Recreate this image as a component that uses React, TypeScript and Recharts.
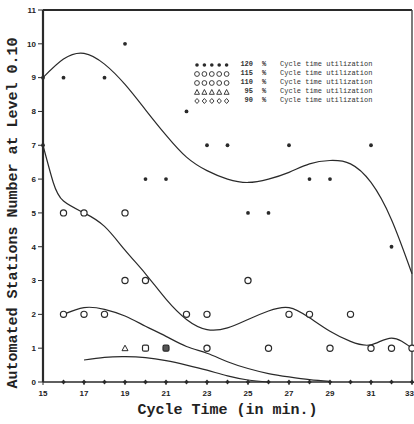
import {
  ComposedChart,
  Line,
  Scatter,
  XAxis,
  YAxis,
  ReferenceLine,
  Legend,
  Label
} from "recharts";

// fitted curves, one per utilization level
const curveX120 = [15, 16, 17, 18, 19, 20, 21, 22, 23, 24, 25, 26, 27, 28, 29, 30, 31, 32, 33];
const curve120 = [9.0, 9.55, 9.72, 9.4, 8.8, 8.05, 7.3, 6.65, 6.25, 6.0, 5.9, 6.0, 6.2, 6.45, 6.55, 6.45, 5.9, 4.8, 3.2];

const curveX115 = [15, 15.5, 16, 17, 18, 19, 20, 21, 22, 23, 24, 25, 26, 27, 28, 29, 30, 31, 32, 33];
const curve115 = [7.0, 5.9, 5.35, 5.0, 4.6, 3.9, 3.2, 2.45, 1.85, 1.55, 1.6, 1.85, 2.1, 2.2, 1.9, 1.5, 1.2, 1.1, 1.3, 1.0];

const curveX110 = [16, 17, 18, 19, 20, 21, 22, 23, 24, 25, 26, 27, 28, 29];
const curve110 = [2.0, 2.2, 2.15, 1.95, 1.65, 1.35, 1.05, 0.85, 0.6, 0.4, 0.25, 0.15, 0.07, 0.02];

const curveX95 = [17, 18, 19, 20, 21, 22, 23, 24, 25, 26];
const curve95 = [0.65, 0.73, 0.75, 0.72, 0.63, 0.5, 0.35, 0.18, 0.06, 0.0];

// observed station counts
const ptsX120 = [15, 15, 16, 18, 19, 20, 21, 22, 23, 24, 25, 26, 27, 28, 29, 31, 32];
const ptsY120 = [9, 7, 9, 9, 10, 6, 6, 8, 7, 7, 5, 5, 7, 6, 6, 7, 4];

const ptsX115 = [16, 17, 19, 19, 20, 25];
const ptsY115 = [5, 5, 5, 3, 3, 3];

const ptsX110 = [16, 17, 18, 22, 23, 27, 28, 30];
const ptsY110 = [2, 2, 2, 2, 2, 2, 2, 2];

const ptsX95 = [19, 20, 21, 23, 26, 29, 31, 32, 33];
const ptsY95 = [1, 1, 1, 1, 1, 1, 1, 1, 1];

const ptsX90 = [16, 17, 18, 19, 20, 21, 22, 23, 24, 25, 26, 27, 28, 29, 30, 31, 32, 33];
const ptsY90 = [0, 0, 0, 0, 0, 0, 0, 0, 0, 0, 0, 0, 0, 0, 0, 0, 0, 0];

const xTicks = [15, 17, 19, 21, 23, 25, 27, 29, 31, 33];
const yTicks = [0, 1, 2, 3, 4, 5, 6, 7, 8, 9, 10, 11];

const legendRows = [
  { mark: "dot", level: "120" },
  { mark: "ring", level: "115" },
  { mark: "ring", level: "110" },
  { mark: "tri", level: "95" },
  { mark: "diamond", level: "90" }
];

const INK = "#2a2a2a";

const zip = (xs: number[], ys: number[]) => xs.map((x, i) => ({ x, y: ys[i] }));

const Dot = (p: any) => <circle cx={p.cx} cy={p.cy} r={1.9} fill={INK} />;
const Ring = (p: any) => (
  <circle cx={p.cx} cy={p.cy} r={3.1} fill="#fff" stroke={INK} strokeWidth={1.2} />
);
const Diamond = (p: any) => (
  <path
    d={`M${p.cx},${p.cy - 2.6}L${p.cx + 2.2},${p.cy}L${p.cx},${p.cy + 2.6}L${p.cx - 2.2},${p.cy}Z`}
    fill={INK}
  />
);
const Mixed = (p: any) => {
  // first few level-1 observations were plotted as a triangle and squares
  if (p.payload.x === 19)
    return (
      <path
        d={`M${p.cx},${p.cy - 3}L${p.cx + 3},${p.cy + 2.5}L${p.cx - 3},${p.cy + 2.5}Z`}
        fill="none"
        stroke={INK}
        strokeWidth={1}
      />
    );
  if (p.payload.x === 20 || p.payload.x === 21)
    return (
      <rect
        x={p.cx - 3}
        y={p.cy - 3}
        width={6}
        height={6}
        rx={1.5}
        fill={p.payload.x === 21 ? "#555" : "#fff"}
        stroke={INK}
        strokeWidth={1.2}
      />
    );
  return <Ring {...p} />;
};

function LegendMark({ kind, x }: { kind: string; x: number }) {
  if (kind === "dot") return <circle cx={x} cy={4} r={1.8} fill={INK} />;
  if (kind === "ring") return <circle cx={x} cy={4} r={2.4} fill="none" stroke={INK} strokeWidth={0.9} />;
  if (kind === "tri")
    return <path d={`M${x},1.5L${x + 2.5},6.3L${x - 2.5},6.3Z`} fill="none" stroke={INK} strokeWidth={0.9} />;
  return <path d={`M${x},1.5L${x + 2.2},4L${x},6.5L${x - 2.2},4Z`} fill="none" stroke={INK} strokeWidth={0.9} />;
}

function LegendBox() {
  return (
    <div style={{ fontFamily: "Liberation Mono", fontSize: 7, color: "#333", lineHeight: "9px" }}>
      {legendRows.map((row) => (
        <div key={row.level} style={{ display: "flex", alignItems: "center", height: 9 }}>
          <svg width={38} height={8}>
            {[0, 1, 2, 3, 4].map((i) => (
              <LegendMark key={i} kind={row.mark} x={4 + i * 7.4} />
            ))}
          </svg>
          <span style={{ width: 22, textAlign: "right", fontWeight: "bold" }}>{row.level}</span>
          <span style={{ marginLeft: 9, width: 14, fontWeight: "bold" }}>%</span>
          <span style={{ marginLeft: 4 }}>Cycle time utilization</span>
        </div>
      ))}
    </div>
  );
}

const tickFont = { fontFamily: "Liberation Sans", fontSize: 8, fontWeight: "bold", fill: "#222" };

// x tick labels; the last one sits against the frame so it is right-aligned
const XTick = (p: any) => {
  const last = p.payload.value === xTicks[xTicks.length - 1];
  return (
    <text
      x={last ? p.x + 2 : p.x}
      y={p.y + 8}
      textAnchor={last ? "end" : "middle"}
      style={tickFont}
    >
      {p.payload.value}
    </text>
  );
};

export default function App() {
  return (
    <div style={{ position: "fixed", left: 0, top: 0, width: 414, height: 424, background: "#fff" }}>
      <ComposedChart width={414} height={424} margin={{ top: 10, right: 2, bottom: 4, left: 0 }}>
        <XAxis
          type="number"
          dataKey="x"
          domain={[15, 33]}
          ticks={xTicks}
          interval={0}
          height={38}
          tickSize={3}
          tickMargin={3}
          tick={XTick}
          axisLine={{ stroke: INK, strokeWidth: 1.6 }}
          tickLine={{ stroke: INK }}
        >
          <Label
            value="Cycle Time (in min.)"
            position="insideBottom"
            offset={6}
            style={{ fontFamily: "Liberation Mono", fontSize: 15, fontWeight: "bold", fill: "#222" }}
          />
        </XAxis>
        <YAxis
          type="number"
          dataKey="y"
          domain={[0, 11]}
          ticks={yTicks}
          interval={0}
          width={43}
          tickSize={5}
          tickMargin={2}
          tick={tickFont}
          axisLine={{ stroke: INK, strokeWidth: 2.2 }}
          tickLine={{ stroke: INK }}
        >
          <Label
            content={() => (
              <text
                x={13}
                y={213}
                transform="rotate(-90 13 213)"
                textAnchor="middle"
                dominantBaseline="central"
                style={{ fontFamily: "Liberation Mono", fontSize: 15, fontWeight: "bold", fill: "#222" }}
              >
                Automated Stations Number at Level 0.10
              </text>
            )}
          />
        </YAxis>
        <ReferenceLine y={11} stroke={INK} strokeWidth={2} />
        <ReferenceLine x={33} stroke="#444" strokeWidth={1.4} />

        <Line data={zip(curveX120, curve120)} dataKey="y" type="natural" stroke={INK} strokeWidth={1.2} dot={false} isAnimationActive={false} />
        <Line data={zip(curveX115, curve115)} dataKey="y" type="natural" stroke={INK} strokeWidth={1.2} dot={false} isAnimationActive={false} />
        <Line data={zip(curveX110, curve110)} dataKey="y" type="natural" stroke={INK} strokeWidth={1.2} dot={false} isAnimationActive={false} />
        <Line data={zip(curveX95, curve95)} dataKey="y" type="natural" stroke={INK} strokeWidth={1.2} dot={false} isAnimationActive={false} />

        <Scatter data={zip(ptsX120, ptsY120)} shape={Dot} isAnimationActive={false} />
        <Scatter data={zip(ptsX115, ptsY115)} shape={Ring} isAnimationActive={false} />
        <Scatter data={zip(ptsX110, ptsY110)} shape={Ring} isAnimationActive={false} />
        <Scatter data={zip(ptsX95, ptsY95)} shape={Mixed} isAnimationActive={false} />
        <Scatter data={zip(ptsX90, ptsY90)} shape={Diamond} isAnimationActive={false} />

        <Legend
          layout="vertical"
          align="center"
          verticalAlign="middle"
          content={() => <LegendBox />}
          wrapperStyle={{ top: 60, left: 193, width: 190 }}
        />
      </ComposedChart>
    </div>
  );
}
